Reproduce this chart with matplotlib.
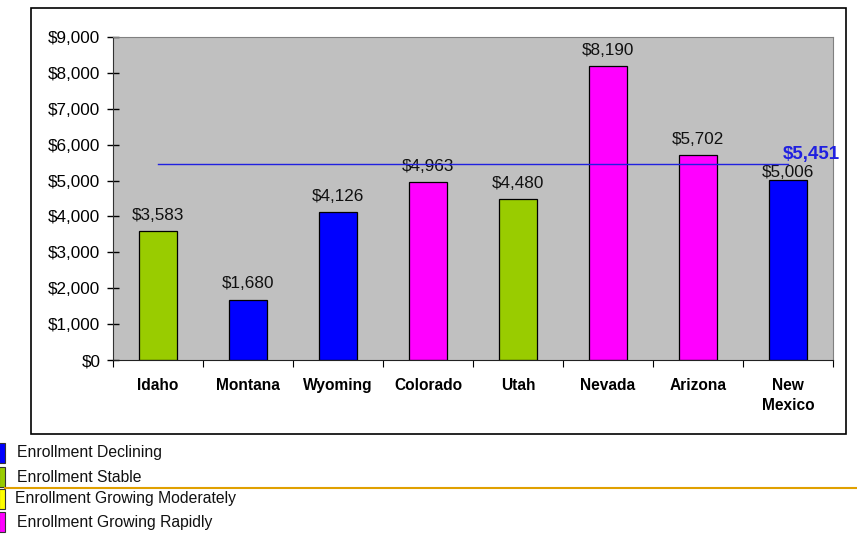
import matplotlib
matplotlib.use("Agg")
import matplotlib.pyplot as plt
from matplotlib.patches import Rectangle
from matplotlib.lines import Line2D

plt.rcParams['font.family'] = ['Liberation Sans', 'DejaVu Sans']

# Per-state values
states = ["Idaho", "Montana", "Wyoming", "Colorado", "Utah", "Nevada", "Arizona", "New\nMexico"]
values = [3583, 1680, 4126, 4963, 4480, 8190, 5702, 5006]
trend = ["stable", "declining", "declining", "rapid", "stable", "rapid", "rapid", "declining"]
reference_value = 5451

trend_colors = {
    "declining": "#0000FF",
    "stable": "#99CC00",
    "moderate": "#FFFF00",
    "rapid": "#FF00FF",
}
legend_keys = ["declining", "stable", "moderate", "rapid"]
legend_labels = [
    "Enrollment Declining",
    "Enrollment Stable",
    "Enrollment Growing Moderately",
    "Enrollment Growing Rapidly",
]
y_ticks = list(range(0, 9001, 1000))

W, H = 857, 535
fig = plt.figure(figsize=(W / 100, H / 100), dpi=100)


def fx(px):
    return px / W


def fy(py):
    return 1 - py / H


# Outer chart frame
fig.patches.append(Rectangle((fx(31), fy(434)), fx(846) - fx(31), fy(8) - fy(434),
                             transform=fig.transFigure, fill=False,
                             edgecolor="black", linewidth=1.2, zorder=0))

ax = fig.add_axes([fx(113), fy(360), fx(833) - fx(113), fy(37) - fy(360)])
ax.set_facecolor("#C0C0C0")

x = list(range(len(states)))
ax.bar(x, values, width=0.42, color=[trend_colors[t] for t in trend],
       edgecolor="black", linewidth=0.9, zorder=2)

# Value labels sit above each bar; the last one is tucked closer to clear the average tag
for xi, v in zip(x, values):
    lift = 0 if xi == x[-1] else 6
    ax.annotate(f"${v:,}", (xi, v), xytext=(0, lift), textcoords="offset points",
                ha="center", va="bottom", fontsize=12.3, color="#111111", zorder=3)

ax.plot([x[0], x[-1]], [reference_value, reference_value], color="#2020E0",
        linewidth=1.0, zorder=4)
ax.text(x[-1] - 0.06, reference_value + 40, f"${reference_value:,}", color="#2020E0",
        fontsize=13.5, fontweight="bold", ha="left", va="bottom", clip_on=False, zorder=5)

ax.set_xlim(-0.5, len(states) - 0.5)
ax.set_ylim(0, 9000)
ax.set_yticks(y_ticks)
ax.set_yticklabels([f"${t:,}" for t in y_ticks], fontsize=12.3)
ax.tick_params(axis="y", direction="inout", length=8, width=1, pad=5)

ax.set_xticks([i - 0.5 for i in range(len(states) + 1)])
ax.set_xticklabels([])
ax.tick_params(axis="x", which="major", direction="out", length=5, width=0.8)
ax.set_xticks(x, minor=True)
ax.set_xticklabels(states, minor=True, fontsize=11.2, fontweight="bold",
                   linespacing=1.45)
ax.tick_params(axis="x", which="minor", length=0, pad=13)

for side in ("top", "right"):
    ax.spines[side].set_color("#808080")
ax.spines["left"].set_color("#333333")
ax.spines["bottom"].set_color("#222222")

# Legend swatches and labels
legend_y = [453, 477, 499, 522]
text_x = [17, 17, 15, 17]
for key, label, yy, tx in zip(legend_keys, legend_labels, legend_y, text_x):
    fig.patches.append(Rectangle((fx(-1), fy(yy + 10)), fx(6), fy(yy - 10) - fy(yy + 10),
                                 transform=fig.transFigure, facecolor=trend_colors[key],
                                 edgecolor="#333333", linewidth=0.8))
    fig.text(fx(tx), fy(yy), label, fontsize=11.3, ha="left", va="center",
             color="#111111")

fig.lines.append(Line2D([fx(5), fx(857)], [fy(487.5), fy(487.5)],
                        transform=fig.transFigure, color="#E0A000", linewidth=1.5))

fig.savefig("out.png", dpi=100)
